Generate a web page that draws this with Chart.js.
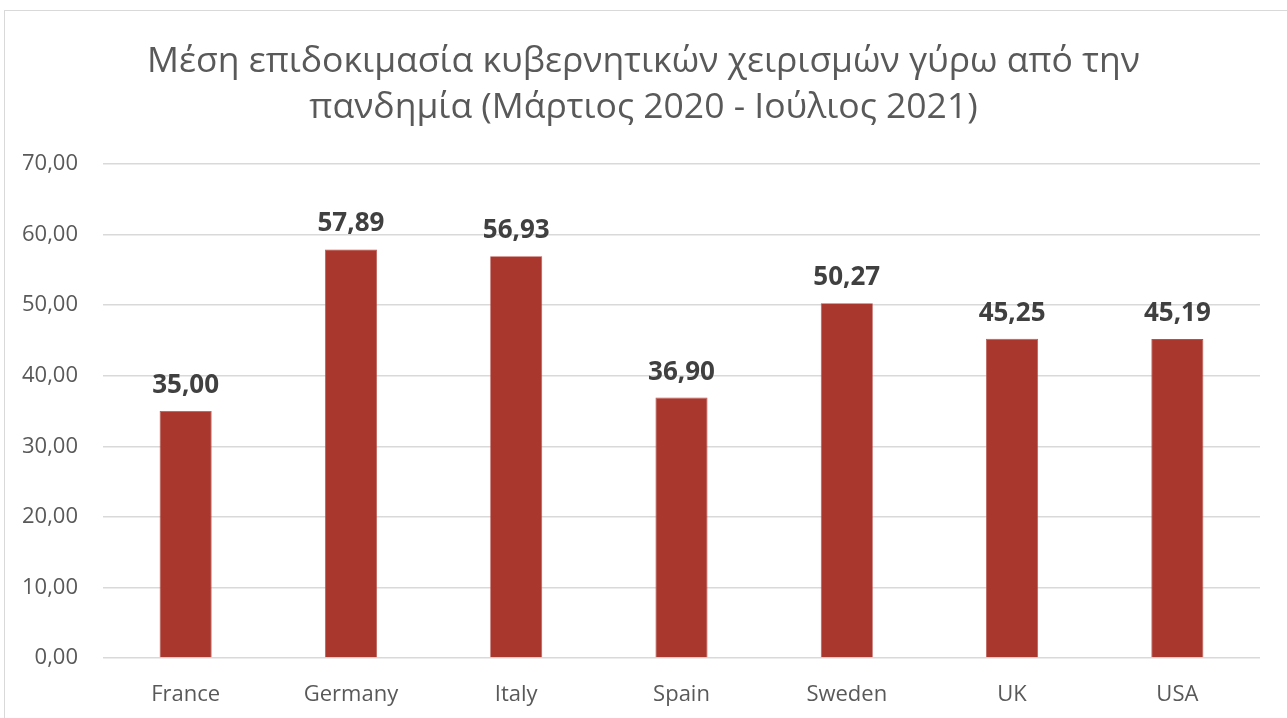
<!DOCTYPE html>
<html>
<head>
<meta charset="utf-8">
<script src="https://cdn.jsdelivr.net/npm/chart.js@4/dist/chart.umd.min.js"></script>
<style>
  html, body { margin:0; padding:0; background:#fff; overflow:hidden; }
  #wrap { position:relative; width:1287px; height:718px; }
  #frame { position:absolute; left:4px; top:10px; width:1300px; height:720px; border:1.5px solid #D9D9D9; box-sizing:border-box; pointer-events:none; }
  canvas { position:absolute; left:0; top:0; }
</style>
</head>
<body>
<div id="wrap">
  <canvas id="c" width="1287" height="718"></canvas>
  <div id="frame"></div>
</div>
<script>
const categories = ["France", "Germany", "Italy", "Spain", "Sweden", "UK", "USA"];
const values = [35.00, 57.89, 56.93, 36.90, 50.27, 45.25, 45.19];
const titleLines = ["Μέση επιδοκιμασία κυβερνητικών χειρισμών γύρω από την", "πανδημία (Μάρτιος 2020 - Ιούλιος 2021)"];
const yMin = 0, yMax = 70, yStep = 10;

const FONT = "'Open Sans', 'Noto Sans', sans-serif";
const fmt = v => v.toFixed(2).replace('.', ',');

const titlePlugin = {
  id: 'customTitle',
  afterDraw(chart) {
    const ctx = chart.ctx;
    ctx.save();
    ctx.fillStyle = '#595959';
    ctx.font = "35.5px " + FONT;
    ctx.textAlign = 'center';
    ctx.textBaseline = 'alphabetic';
    const cx = chart.width / 2;
    ctx.fillText(titleLines[0], cx, 72);
    ctx.fillText(titleLines[1], cx, 118);
    ctx.restore();
  }
};

const labelPlugin = {
  id: 'valueLabels',
  afterDatasetsDraw(chart) {
    const ctx = chart.ctx;
    const meta = chart.getDatasetMeta(0);
    ctx.save();
    ctx.fillStyle = '#404040';
    ctx.font = "bold 26px " + FONT;
    ctx.textAlign = 'center';
    ctx.textBaseline = 'alphabetic';
    meta.data.forEach((bar, i) => {
      ctx.fillText(fmt(values[i]), bar.x, bar.y - 18);
    });
    ctx.restore();
  }
};

new Chart(document.getElementById('c'), {
  type: 'bar',
  data: {
    labels: categories,
    datasets: [{
      data: values,
      backgroundColor: '#AA372E',
      borderColor: '#B8504A',
      borderWidth: 0.8,
      categoryPercentage: 1.0,
      barPercentage: 0.315
    }]
  },
  options: {
    responsive: false,
    animation: false,
    events: [],
    layout: { padding: { top: 164, right: 27, bottom: 0, left: 0 } },
    plugins: { legend: { display: false }, title: { display: false }, tooltip: { enabled: false } },
    scales: {
      x: {
        grid: { display: false, drawTicks: false },
        border: { display: false },
        ticks: { color: '#595959', font: { family: FONT, size: 22 }, padding: 24, maxRotation: 0 },
        afterFit(s) { s.height = 60; }
      },
      y: {
        min: yMin, max: yMax,
        grid: { color: '#D9D9D9', lineWidth: 1.5, drawTicks: false },
        border: { display: false },
        ticks: { stepSize: yStep, color: '#595959', font: { family: FONT, size: 22 }, padding: 25,
                 callback: v => fmt(v) },
        afterFit(s) { s.width = 103; }
      }
    }
  },
  plugins: [titlePlugin, labelPlugin]
});
</script>
</body>
</html>
